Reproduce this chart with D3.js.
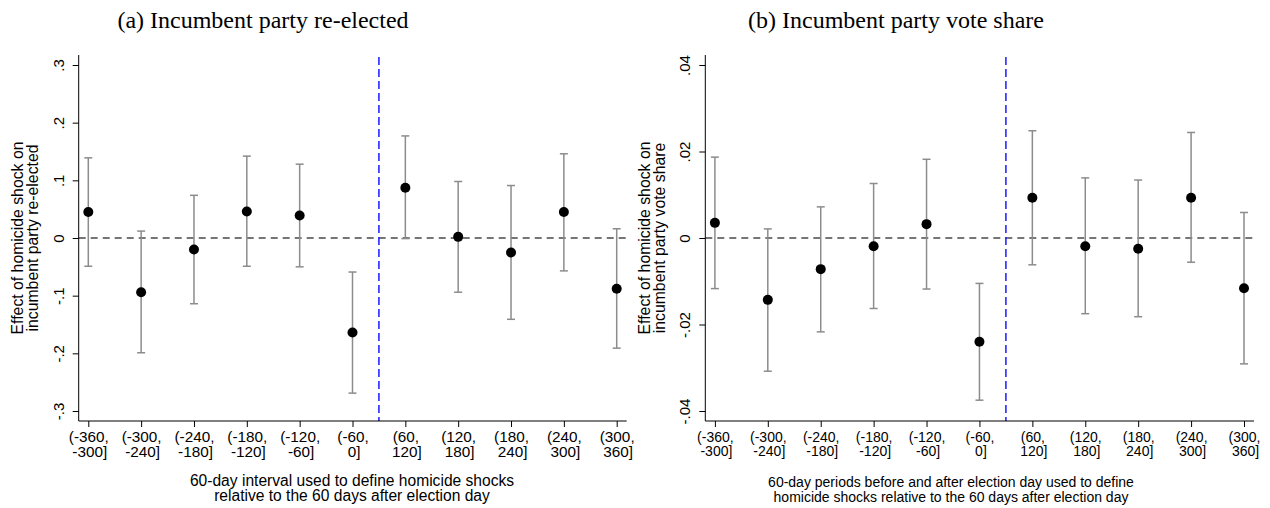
<!DOCTYPE html>
<html>
<head>
<meta charset="utf-8">
<script src="https://cdn.jsdelivr.net/npm/d3@7"></script>
<style>
  html, body { margin: 0; padding: 0; background: #fff; }
  svg { display: block; }
</style>
</head>
<body>
<svg id="chart" width="1270" height="508"></svg>
<script>
// ---------- DATA ----------
const categoriesLine1 = ["(-360,", "(-300,", "(-240,", "(-180,", "(-120,", "(-60,", "(60,", "(120,", "(180,", "(240,", "(300,"];
const categoriesLine2 = ["-300]", "-240]", "-180]", "-120]", "-60]", "0]", "120]", "180]", "240]", "300]", "360]"];

// Panel (a): incumbent party re-elected
const reelectEst   = [0.045, -0.094, -0.020, 0.046, 0.039, -0.164, 0.087, 0.002, -0.025, 0.045, -0.088];
const reelectLower = [-0.049, -0.199, -0.114, -0.049, -0.050, -0.269, -0.001, -0.094, -0.141, -0.057, -0.191];
const reelectUpper = [0.139, 0.012, 0.074, 0.142, 0.128, -0.059, 0.177, 0.098, 0.091, 0.146, 0.016];
const reelectTicks = [-0.3, -0.2, -0.1, 0, 0.1, 0.2, 0.3];
const reelectTickLabels = ["-.3", "-.2", "-.1", "0", ".1", ".2", ".3"];

// Panel (b): incumbent party vote share
const shareEst   = [0.0035, -0.0143, -0.0072, -0.0019, 0.0032, -0.0240, 0.0093, -0.0019, -0.0025, 0.0093, -0.0116];
const shareLower = [-0.0117, -0.0308, -0.0217, -0.0163, -0.0118, -0.0375, -0.0062, -0.0175, -0.0182, -0.0056, -0.0291];
const shareUpper = [0.0187, 0.0021, 0.0072, 0.0126, 0.0182, -0.0105, 0.0248, 0.0139, 0.0134, 0.0244, 0.0059];
const shareTicks = [-0.04, -0.02, 0, 0.02, 0.04];
const shareTickLabels = ["-.04", "-.02", "0", ".02", ".04"];

const panels = [
  {
    title: "(a) Incumbent party re-elected",
    titleX: 263,
    yTitle: ["Effect of homicide shock on", "incumbent party re-elected"],
    xTitle: ["60-day interval used to define homicide shocks", "relative to the 60 days after election day"],
    xTitleX: 352,
    est: reelectEst, lo: reelectLower, hi: reelectUpper,
    ticks: reelectTicks, tickLabels: reelectTickLabels,
    yMax: 0.3,
    left: 78.7, right: 626.7,
    xTickFont: 15.3, xTickY: [21, 36.3],
    xTitleFont: 15.6, xTitleY: [485.5, 500.5]
  },
  {
    title: "(b) Incumbent party vote share",
    titleX: 896,
    yTitle: ["Effect of homicide shock on", "incumbent party vote share"],
    xTitle: ["60-day periods before and after election day used to define", "homicide shocks relative to the 60 days after election day"],
    xTitleX: 951,
    est: shareEst, lo: shareLower, hi: shareUpper,
    ticks: shareTicks, tickLabels: shareTickLabels,
    yMax: 0.04,
    left: 705.3, right: 1254,
    xTickFont: 14, xTickY: [20.7, 34.7],
    xTitleFont: 14, xTitleY: [487.3, 501.5]
  }
];

// ---------- DRAW ----------
const svg = d3.select("#chart");
const sans = "'Liberation Sans', Arial, Helvetica, sans-serif";
const serif = "'Liberation Serif', 'Times New Roman', Times, serif";

const plotTop = 55, plotBottom = 421;
const tickTop = 65, tickBottom = 411;

panels.forEach(p => {
  const g = svg.append("g");
  const idx = d3.range(p.est.length);

  const step = (p.right - p.left - 19.6) / 10;
  const x = d3.scaleLinear()
    .domain([0, 10])
    .range([p.left + 9.6, p.left + 9.6 + 10 * step]);

  const y = d3.scaleLinear()
    .domain([-p.yMax, p.yMax])
    .range([tickBottom, tickTop]);

  // Title
  g.append("text")
    .attr("x", p.titleX).attr("y", 28)
    .attr("text-anchor", "middle")
    .style("font-family", serif)
    .style("font-size", "24px")
    .attr("fill", "#000")
    .text(p.title);

  // Zero reference line
  g.append("line")
    .attr("x1", p.left).attr("x2", p.right + 1)
    .attr("y1", y(0)).attr("y2", y(0))
    .attr("stroke", "#4a4a4a")
    .attr("stroke-width", 1.6)
    .attr("stroke-dasharray", "7,5");

  // Vertical line at election day
  g.append("line")
    .attr("x1", x(5.5)).attr("x2", x(5.5))
    .attr("y1", plotTop + 2).attr("y2", plotBottom)
    .attr("stroke", "#1a1aff")
    .attr("stroke-width", 1.5)
    .attr("stroke-dasharray", "8,4");

  // Error bars
  const eb = g.append("g").attr("stroke", "#8c8c8c").attr("stroke-width", 1.5).attr("fill", "none");
  eb.selectAll("line.v").data(idx).join("line")
    .attr("class", "v")
    .attr("x1", i => x(i)).attr("x2", i => x(i))
    .attr("y1", i => y(p.lo[i])).attr("y2", i => y(p.hi[i]));
  eb.selectAll("line.capHi").data(idx).join("line")
    .attr("class", "capHi")
    .attr("x1", i => x(i) - 4).attr("x2", i => x(i) + 4)
    .attr("y1", i => y(p.hi[i])).attr("y2", i => y(p.hi[i]));
  eb.selectAll("line.capLo").data(idx).join("line")
    .attr("class", "capLo")
    .attr("x1", i => x(i) - 4).attr("x2", i => x(i) + 4)
    .attr("y1", i => y(p.lo[i])).attr("y2", i => y(p.lo[i]));

  // Points
  g.selectAll("circle").data(idx).join("circle")
    .attr("cx", i => x(i)).attr("cy", i => y(p.est[i]))
    .attr("r", 5)
    .attr("fill", "#000");

  // Y axis
  const yAxis = d3.axisLeft(y)
    .tickValues(p.ticks)
    .tickFormat((d, i) => p.tickLabels[i])
    .tickSize(6)
    .tickSizeOuter(0);
  const ya = g.append("g")
    .attr("transform", `translate(${p.left},0)`)
    .call(yAxis);
  ya.select(".domain").remove();
  ya.append("line")
    .attr("x1", 0).attr("x2", 0)
    .attr("y1", plotTop).attr("y2", plotBottom)
    .attr("stroke", "#000").attr("stroke-width", 1);
  ya.selectAll(".tick line").attr("stroke", "#000");
  ya.selectAll(".tick text")
    .attr("x", null).attr("dy", null)
    .attr("transform", "translate(-15,0) rotate(-90)")
    .attr("text-anchor", "middle")
    .attr("fill", "#000")
    .style("font-family", sans)
    .style("font-size", "15px");

  // X axis
  const xAxis = d3.axisBottom(x)
    .tickValues(idx)
    .tickFormat(() => "")
    .tickSize(6)
    .tickSizeOuter(0);
  const xa = g.append("g")
    .attr("transform", `translate(0,${plotBottom})`)
    .call(xAxis);
  xa.select(".domain").remove();
  xa.append("line")
    .attr("x1", p.left).attr("x2", p.right)
    .attr("y1", 0).attr("y2", 0)
    .attr("stroke", "#000").attr("stroke-width", 1);
  xa.selectAll(".tick line").attr("stroke", "#000");
  xa.selectAll(".tick text").each(function(d) {
    const t = d3.select(this)
      .attr("y", null).attr("dy", null)
      .attr("fill", "#000")
      .attr("text-anchor", "middle")
      .style("font-family", sans)
      .style("font-size", p.xTickFont + "px");
    t.append("tspan").attr("x", 0).attr("y", p.xTickY[0]).text(categoriesLine1[d]);
    t.append("tspan").attr("x", 1).attr("y", p.xTickY[1]).text(categoriesLine2[d]);
  });

  // Y axis title
  const yMid = (tickTop + tickBottom) / 2;
  const yt = g.append("text")
    .attr("transform", `translate(${p.left - 55.5},${yMid}) rotate(-90)`)
    .attr("text-anchor", "middle")
    .attr("fill", "#000")
    .style("font-family", sans)
    .style("font-size", "15.8px");
  yt.append("tspan").attr("x", 0).attr("y", 0).text(p.yTitle[0]);
  yt.append("tspan").attr("x", 0).attr("y", 15).text(p.yTitle[1]);

  // X axis title
  const xt = g.append("text")
    .attr("text-anchor", "middle")
    .attr("fill", "#000")
    .style("font-family", sans)
    .style("font-size", p.xTitleFont + "px");
  xt.append("tspan").attr("x", p.xTitleX).attr("y", p.xTitleY[0]).text(p.xTitle[0]);
  xt.append("tspan").attr("x", p.xTitleX).attr("y", p.xTitleY[1]).text(p.xTitle[1]);
});
</script>
</body>
</html>
